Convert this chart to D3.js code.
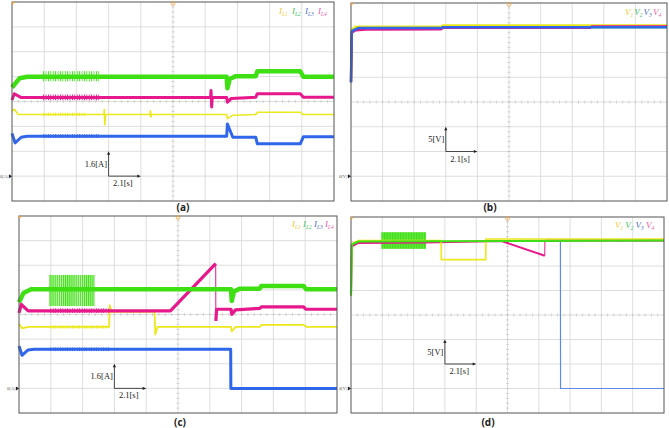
<!DOCTYPE html>
<html>
<head>
<meta charset="utf-8">
<script src="https://cdn.jsdelivr.net/npm/d3@7"></script>
<style>
	body { margin: 0; background: #fff; }
	svg { display: block; }
	.lbl { font-family: "Liberation Serif", "DejaVu Serif", serif; font-size: 8.5px; fill: #222; }
	.cap { font-family: "Open Sans", "Noto Sans", sans-serif; font-size: 10px; font-weight: bold; fill: #222; }
	.leg { font-family: "Liberation Serif", serif; font-style: italic; }
</style>
</head>
<body>
<svg id="scope" width="669" height="428"></svg>
<script>
// time axis (s) and panel titles
const timeSpan = [0, 21];
const panelNames = ["(a)", "(b)", "(c)", "(d)"];
const currentLegend = ["L1", "L2", "L3", "L4"];
const voltageLegend = ["1", "2", "3", "4"];
const currentRange = [-1.6, 11.2];   // A, 1.6 A / div
const voltageRange = [-5, 35];      // V, 5 V / div

// (a) inductor currents, normal operation [t, A]
const aIL1 = [[0,4.2],[0.15,4.3],[0.4,3.96],[6.0,3.96],[6.02,4.28],[6.05,3.3],[6.1,3.96],[9.0,3.96],[9.03,4.2],[9.06,3.8],[9.1,3.96],[14.0,3.96],[14.05,3.7],[14.4,3.92],[15.9,3.96],[16.0,4.11],[18.8,4.11],[19.0,3.96],[21,3.96]];
const aIL2 = [[0,5.7],[0.5,6.3],[1.0,6.39],[14.0,6.39],[14.05,5.65],[14.2,6.25],[14.6,6.43],[15.9,6.43],[16.0,6.75],[18.8,6.75],[19.0,6.39],[21,6.39]];
const aIL3 = [[0,2.75],[0.2,2.14],[0.6,2.5],[1.0,2.57],[14.0,2.57],[14.05,3.35],[14.4,2.5],[15.9,2.5],[16.0,2.08],[18.8,2.08],[19.0,2.53],[21,2.53]];
const aIL4 = [[0,4.9],[0.15,5.3],[0.6,5.05],[12.95,5.05],[12.98,5.5],[13.02,4.45],[13.06,5.05],[14.0,5.05],[14.05,4.75],[14.3,5.0],[15.9,5.08],[16.0,5.3],[18.8,5.3],[19.0,5.08],[21,5.08]];
// ripple bands [t0, t1, low, high]
const aRipple = [
	{ c: "g", band: [2.0, 5.7, 6.1, 6.75] },
	{ c: "m", band: [2.0, 5.7, 4.88, 5.25] },
	{ c: "y", band: [2.0, 4.8, 3.86, 4.08] },
	{ c: "b", band: [2.0, 5.7, 2.45, 2.7] }
];

// (b) capacitor voltages, normal operation [t, V]
const bV1 = [[0,19],[0.05,29.5],[0.3,30.2],[6.0,30.2],[6.1,30.45],[21,30.45]];
const bV2 = [[0,19],[0.05,29.3],[0.5,29.95],[6.0,29.95],[6.1,30.1],[21,30.1]];
const bV3 = [[0,19],[0.05,29.3],[0.5,29.95],[6.0,29.95],[6.1,30.1],[21,30.1]];
const bV4 = [[0,19],[0.05,29.0],[0.3,29.5],[1.0,29.65],[6.0,29.7],[6.1,30.0],[15.9,30.0],[16.0,30.25],[21,30.25]];

// (c) inductor currents with faults [t, A]
const cIL1 = [[0,4.2],[0.2,3.9],[0.6,3.99],[5.95,3.99],[6.0,5.4],[6.1,4.98],[8.95,4.98],[9.0,3.5],[9.15,3.99],[14.0,3.99],[14.05,3.7],[14.3,3.99],[15.9,3.99],[16.0,4.12],[18.8,4.12],[19.0,3.99],[21,3.99]];
const cIL2 = [[0,5.6],[0.3,6.2],[0.8,6.44],[14.0,6.44],[14.05,5.68],[14.2,6.3],[14.6,6.48],[15.9,6.48],[16.0,6.65],[18.8,6.65],[18.95,6.44],[21,6.44]];
const cIL3 = [[0,2.75],[0.2,2.15],[0.6,2.5],[1.0,2.54],[13.98,2.54],[13.99,0],[21,0]];
const cIL4 = [[0,4.9],[0.15,5.46],[0.6,5.03],[10.0,5.03],[12.99,8.1],null,[13.0,4.38],[13.05,5.14],[14.0,5.14],[14.05,4.81],[14.3,5.1],[15.9,5.2],[16.0,5.29],[18.8,5.29],[18.95,5.14],[21,5.14]];
const cIL4Edge = [[12.99,8.1],[13.0,4.38]];
const cIL2Burst = [1.98, 5.0, 5.35, 7.37];
const cRipple = [
	{ c: "m", band: [2.0, 6.0, 4.9, 5.2] },
	{ c: "y", band: [2.0, 5.9, 3.88, 4.1] },
	{ c: "b", band: [2.0, 6.0, 2.42, 2.66] }
];

// (d) capacitor voltages with faults [t, V]
const dV1 = [[0,19],[0.05,29.5],[0.5,30.2],[6.05,30.2],[6.06,26.3],[9.04,26.3],[9.05,30.5],[21,30.5]];
const dV2 = [[0,19],[0.05,29.4],[0.5,30.0],[21,30.2]];
const dV3 = [[0,19],[0.05,29.3],[0.5,30.0],[14.05,30.0],[14.06,0],[21,0]];
const dV4 = [[0,19],[0.05,29.0],[0.5,29.7],[5.0,29.8],[10.1,30.1],[13.0,27.1],null,[13.01,30.2],[21,30.2]];
const dV4Edge = [[13.0,27.1],[13.01,30.2]];
const dV2Burst = [2.03, 5.03, 28.5, 31.9];

const col = { y: "#ece81c", g: "#3ee014", b: "#2f66ea", m: "#e6188c" };
const legCol = ["#f2c832", "#3cc45a", "#4f6fc4", "#f05aa8"];

const svg = d3.select("#scope");
const defs = svg.append("defs");

// vertical hatch for the oscillating bursts and ripple bands
function hatch(id, color, step, w, bg) {
	const pt = defs.append("pattern").attr("id", id).attr("patternUnits", "userSpaceOnUse")
		.attr("width", step).attr("height", 4);
	pt.append("rect").attr("width", step).attr("height", 4).attr("fill", bg);
	pt.append("rect").attr("width", w).attr("height", 4).attr("fill", color);
}
hatch("osc", col.g, 2.1, 1.1, "#c8f5b8");
hatch("oscD", col.g, 1.6, 1.1, "#7ee860");
Object.keys(col).forEach(k => hatch("rip-" + k, col[k], 2.4, 0.9, "rgba(255,255,255,0)"));

function panel(p) {
	const x = d3.scaleLinear().domain(timeSpan).range([p.x0, p.x1]);
	const y = d3.scaleLinear().domain(p.range).range([p.y1, p.y0]);
	const g = svg.append("g");

	// grid 10 x 8
	const xt = d3.range(1, 10).map(i => p.x0 + i * (p.x1 - p.x0) / 10);
	const yt = d3.range(1, 8).map(i => p.y0 + i * (p.y1 - p.y0) / 8);
	g.selectAll(".vx").data(xt).join("line")
		.attr("x1", d => d).attr("x2", d => d).attr("y1", p.y0).attr("y2", p.y1)
		.attr("stroke", "#d6d6d6").attr("stroke-width", 0.8);
	g.selectAll(".hy").data(yt).join("line")
		.attr("y1", d => d).attr("y2", d => d).attr("x1", p.x0).attr("x2", p.x1)
		.attr("stroke", "#d6d6d6").attr("stroke-width", 0.8);

	// minor ticks on the centre lines
	const cx = (p.x0 + p.x1) / 2, cy = (p.y0 + p.y1) / 2;
	const mx = d3.range(1, 50).map(i => p.x0 + i * (p.x1 - p.x0) / 50);
	const my = d3.range(1, 40).map(i => p.y0 + i * (p.y1 - p.y0) / 40);
	g.selectAll(".mx").data(mx).join("line")
		.attr("x1", d => d).attr("x2", d => d).attr("y1", cy - 1.5).attr("y2", cy + 1.5)
		.attr("stroke", "#bbb").attr("stroke-width", 0.6);
	g.selectAll(".my").data(my).join("line")
		.attr("y1", d => d).attr("y2", d => d).attr("x1", cx - 1.5).attr("x2", cx + 1.5)
		.attr("stroke", "#bbb").attr("stroke-width", 0.6);

	// ripple bands
	(p.ripple || []).forEach(r => {
		const b = r.band;
		g.append("rect").attr("x", x(b[0])).attr("width", x(b[1]) - x(b[0]))
			.attr("y", y(b[3])).attr("height", y(b[2]) - y(b[3]))
			.attr("fill", `url(#rip-${r.c})`);
	});

	// bursts
	(p.bursts || []).forEach(b => {
		g.append("rect").attr("x", x(b[0])).attr("width", x(b[1]) - x(b[0]))
			.attr("y", y(b[3])).attr("height", y(b[2]) - y(b[3]))
			.attr("fill", `url(#${p.burstFill})`);
	});

	// traces
	const line = d3.line().defined(d => d !== null).x(d => x(d[0])).y(d => y(d[1]));
	p.traces.forEach(t => {
		g.append("path").datum(t.data).attr("d", line)
			.attr("fill", "none").attr("stroke", t.color).attr("stroke-width", t.w)
			.attr("stroke-linejoin", "round");
	});

	// frame
	g.append("rect").attr("x", p.x0).attr("y", p.y0).attr("width", p.x1 - p.x0).attr("height", p.y1 - p.y0)
		.attr("fill", "none").attr("stroke", "#555").attr("stroke-width", 1);

	// trigger markers
	g.append("path").attr("d", `M${p.x0},${p.y0} l3,0 l-3,3 z`).attr("fill", "#f0a030");
	g.append("circle").attr("cx", cx).attr("cy", p.y0 + 1.5).attr("r", 1.8)
		.attr("fill", "none").attr("stroke", "#f0a030").attr("stroke-width", 0.8);

	// ground marker
	const gy = y(0);
	g.append("path").attr("d", `M${p.x0 - 3},${gy - 2} l3,2 l-3,2 z`).attr("fill", "#222");
	g.append("text").attr("x", p.x0 - 3.5).attr("y", gy + 1.5).attr("text-anchor", "end")
		.attr("font-size", 4.5).attr("fill", "#555").attr("font-family", "Liberation Serif")
		.text(p.ground);

	// scale bar: one division each way
	const ox = x(6.3), oy = y(p.barBase);
	const dy = y(p.barBase) - y(p.barBase + p.div);
	const dx = x(2.1) - x(0);
	g.append("line").attr("x1", ox).attr("x2", ox).attr("y1", oy).attr("y2", oy - dy + 2)
		.attr("stroke", "#222").attr("stroke-width", 0.8);
	g.append("path").attr("d", `M${ox},${oy - dy} l-1.6,3.5 l3.2,0 z`).attr("fill", "#222");
	g.append("line").attr("x1", ox).attr("x2", ox + dx - 2).attr("y1", oy).attr("y2", oy)
		.attr("stroke", "#222").attr("stroke-width", 0.8);
	g.append("path").attr("d", `M${ox + dx},${oy} l-3.5,-1.6 l0,3.2 z`).attr("fill", "#222");
	g.append("text").attr("class", "lbl").attr("x", ox - 1.5).attr("y", oy - dy / 2 + 3)
		.attr("text-anchor", "end").text(p.unitV);
	g.append("text").attr("class", "lbl").attr("x", ox + 4.5).attr("y", oy + 10).text("2.1[s]");

	// legend
	p.legend.forEach((s, i) => {
		const t = g.append("text").attr("class", "leg").attr("x", p.legX + i * p.legStep).attr("y", p.legY)
			.attr("fill", legCol[i]);
		t.append("tspan").attr("font-size", 9).text(p.legSym);
		t.append("tspan").attr("font-size", 5.5).attr("dy", 2).text(s);
	});

	// caption
	svg.append("text").attr("class", "cap").attr("x", p.capX).attr("y", p.capY)
		.attr("text-anchor", "middle").text(p.name);
}

panel({
	name: panelNames[0], x0: 12, x1: 334, y0: 2, y1: 201, range: currentRange,
	ground: "0[A]", unitV: "1.6[A]", div: 1.6, barBase: 0,
	legend: currentLegend, legSym: "I", legX: 279, legY: 14, legStep: 13,
	capX: 183, capY: 211,
	ripple: aRipple,
	traces: [
		{ data: aIL1, color: col.y, w: 1.6 },
		{ data: aIL3, color: col.b, w: 3 },
		{ data: aIL4, color: col.m, w: 3 },
		{ data: aIL2, color: col.g, w: 4.5 }
	]
});

panel({
	name: panelNames[1], x0: 351, x1: 667, y0: 3, y1: 201, range: voltageRange,
	ground: "0[V]", unitV: "5[V]", div: 5, barBase: 5,
	legend: voltageLegend, legSym: "V", legX: 625, legY: 15, legStep: 9.3,
	capX: 490, capY: 211,
	traces: [
		{ data: bV1, color: col.y, w: 2.5 },
		{ data: bV2, color: col.g, w: 2 },
		{ data: bV4, color: col.m, w: 2.5 },
		{ data: bV3, color: col.b, w: 2.5 }
	]
});

panel({
	name: panelNames[2], x0: 19, x1: 337, y0: 216, y1: 413, range: currentRange,
	ground: "0[A]", unitV: "1.6[A]", div: 1.6, barBase: 0,
	legend: currentLegend, legSym: "I", legX: 292, legY: 227, legStep: 11,
	capX: 180, capY: 426,
	ripple: cRipple,
	bursts: [cIL2Burst], burstFill: "osc",
	traces: [
		{ data: cIL1, color: col.y, w: 1.8 },
		{ data: cIL3, color: col.b, w: 3 },
		{ data: cIL4, color: col.m, w: 3.2 },
		{ data: cIL4Edge, color: col.m, w: 1 },
		{ data: cIL2, color: col.g, w: 4.5 }
	]
});

panel({
	name: panelNames[3], x0: 351, x1: 664, y0: 217, y1: 413, range: voltageRange,
	ground: "0[V]", unitV: "5[V]", div: 5, barBase: 5,
	legend: voltageLegend, legSym: "V", legX: 615, legY: 228, legStep: 10.3,
	capX: 488, capY: 426,
	bursts: [dV2Burst], burstFill: "oscD",
	traces: [
		{ data: dV3, color: "#5d8ae8", w: 1.2 },
		{ data: dV4, color: col.m, w: 2 },
		{ data: dV4Edge, color: col.m, w: 1 },
		{ data: dV1, color: col.y, w: 1.6 },
		{ data: dV2, color: col.g, w: 2.2 }
	]
});
</script>
</body>
</html>
